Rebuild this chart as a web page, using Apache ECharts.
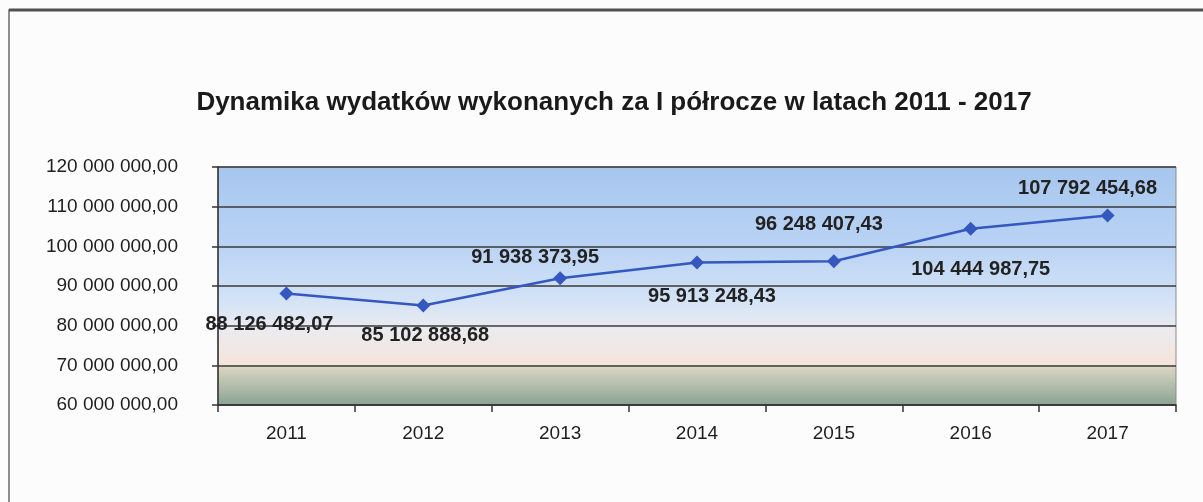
<!DOCTYPE html>
<html>
<head>
<meta charset="utf-8">
<script src="https://cdn.jsdelivr.net/npm/echarts@6/dist/echarts.min.js"></script>
<style>
html,body{margin:0;padding:0;background:#fcfcfc;}
#c{width:1203px;height:502px;}
</style>
</head>
<body>
<div id="c"></div>
<script>
const categories = ['2011', '2012', '2013', '2014', '2015', '2016', '2017'];
const values = [88126482.07, 85102888.68, 91938373.95, 95913248.43, 96248407.43, 104444987.75, 107792454.68];
const yMin = 60000000, yMax = 120000000, yInterval = 10000000;
const titleText = 'Dynamika wydatków wykonanych za I półrocze w latach 2011 - 2017';
const labelOffsets = [[-17, 31], [2, 30], [-25, -21], [15, 34], [-15, -37], [10, 41], [-20, -27]];

function fmt(v) {
  const parts = v.toFixed(2).split('.');
  return parts[0].replace(/\B(?=(\d{3})+(?!\d))/g, ' ') + ',' + parts[1];
}

const chart = echarts.init(document.getElementById('c'));
chart.setOption({
  backgroundColor: '#fcfcfc',
  animation: false,
  graphic: [
    { type: 'rect', shape: { x: 9, y: 10, width: 1300, height: 600 }, style: { fill: 'none', stroke: '#6a6a6a', lineWidth: 1.5 }, z: -1 },
    { type: 'line', shape: { x1: 9, y1: 10, x2: 1203, y2: 10 }, style: { stroke: '#505050', lineWidth: 3 }, z: -1 }
  ],
  title: {
    text: titleText,
    left: 609,
    textAlign: 'center',
    top: 85,
    textStyle: { fontFamily: 'Liberation Sans', fontWeight: 'bold', fontSize: 26, color: '#1a1a1a' }
  },
  grid: {
    left: 218, right: 27, top: 167, bottom: 97,
    show: true,
    borderColor: '#8a8a8a',
    borderWidth: 1,
    backgroundColor: new echarts.graphic.LinearGradient(0, 0, 0, 1, [
      { offset: 0, color: '#a7c6ee' },
      { offset: 0.33, color: '#b9d3f4' },
      { offset: 0.55, color: '#d2e2f6' },
      { offset: 0.68, color: '#ebebf0' },
      { offset: 0.83, color: '#f5e4da' },
      { offset: 0.834, color: '#dcd8c3' },
      { offset: 1, color: '#8aa293' }
    ])
  },
  xAxis: {
    type: 'category',
    data: categories,
    boundaryGap: true,
    axisLine: { lineStyle: { color: '#333', width: 1.5 } },
    axisTick: { show: true, length: 7, alignWithLabel: false, lineStyle: { color: '#333', width: 1.5 } },
    axisLabel: { color: '#1e1e1e', fontFamily: 'Liberation Sans', fontSize: 19, margin: 19 },
    splitLine: { show: false }
  },
  yAxis: {
    type: 'value',
    min: yMin, max: yMax, interval: yInterval,
    axisLine: { show: true, lineStyle: { color: '#333', width: 1.5 } },
    axisTick: { show: true, length: 6, lineStyle: { color: '#333', width: 1.5 } },
    axisLabel: { color: '#1e1e1e', fontFamily: 'Liberation Sans', fontSize: 19, margin: 40, formatter: v => fmt(v) },
    splitLine: { show: true, lineStyle: { color: '#3a3a3a', width: 1.5 } }
  },
  series: [{
    type: 'line',
    data: values.map((v, i) => ({
      value: v,
      label: { offset: labelOffsets[i] }
    })),
    symbol: 'diamond',
    symbolSize: 14,
    lineStyle: { color: '#3558c0', width: 2.5 },
    itemStyle: { color: '#3558c0' },
    label: {
      show: true,
      position: 'inside',
      formatter: p => fmt(p.value),
      fontFamily: 'Liberation Sans',
      fontWeight: 'bold',
      fontSize: 20,
      color: '#222'
    }
  }]
});
</script>
</body>
</html>
